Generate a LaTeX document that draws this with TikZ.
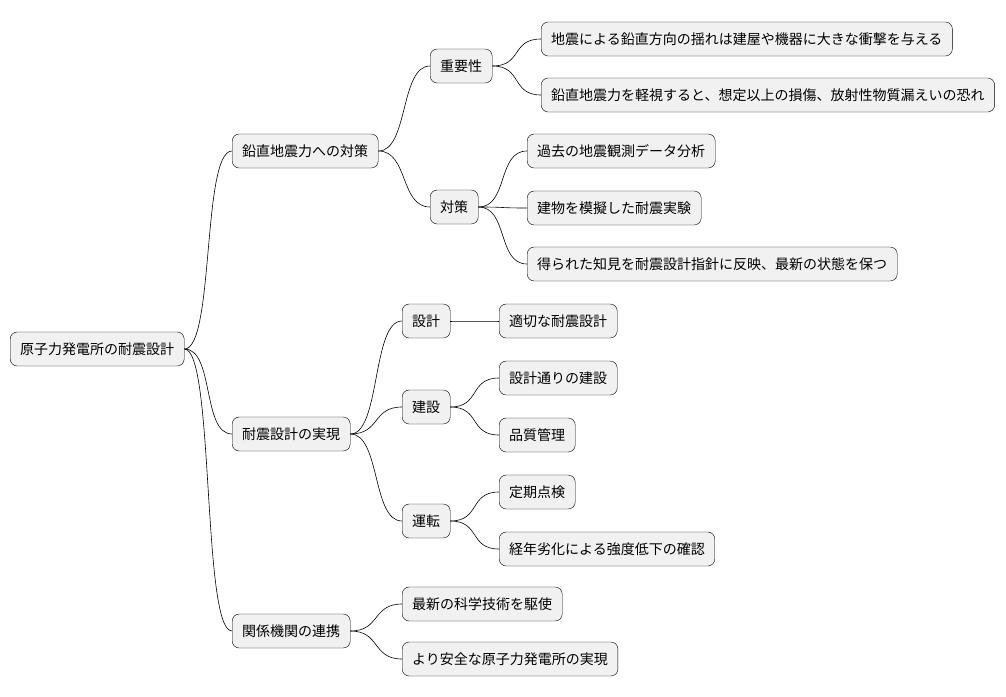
\documentclass[tikz,border=0pt]{standalone}
\usepackage{fontspec}
\setmainfont{Noto Sans CJK JP}
\usetikzlibrary{positioning}
\definecolor{boxfill}{HTML}{F1F1F1}
\begin{document}
\begin{tikzpicture}[x=1pt,y=-1pt,
    topic/.style={draw=black,fill=boxfill,rounded corners=7pt,anchor=west,
      minimum height=34pt,inner xsep=10pt,inner ysep=0pt,font=\fontsize{14pt}{16pt}\selectfont},
    link/.style={draw=black,line width=0.6pt}]
    \useasboundingbox (0,0) rectangle (1006,696);
    % root and first level
    \node[topic] (root) at (10,349) {原子力発電所の耐震設計};
    \node[topic] (vert) at (232,151) {鉛直地震力への対策};
    \node[topic] (real) at (232,434) {耐震設計の実現};
    \node[topic] (coop) at (232,631) {関係機関の連携};
    % second level
    \node[topic] (imp) at (430,66) {重要性};
    \node[topic] (meas) at (430,207) {対策};
    \node[topic] (des) at (402,321) {設計};
    \node[topic] (cons) at (402,407) {建設};
    \node[topic] (oper) at (402,521) {運転};
    \node[topic] (sci) at (402,604) {最新の科学技術を駆使};
    \node[topic] (safe) at (402,659) {より安全な原子力発電所の実現};
    % third level
    \node[topic] (imp-1) at (541,39) {地震による鉛直方向の揺れは建屋や機器に大きな衝撃を与える};
    \node[topic] (imp-2) at (541,95) {鉛直地震力を軽視すると、想定以上の損傷、放射性物質漏えいの恐れ};
    \node[topic] (meas-1) at (527,151) {過去の地震観測データ分析};
    \node[topic] (meas-2) at (527,208) {建物を模擬した耐震実験};
    \node[topic] (meas-3) at (527,264) {得られた知見を耐震設計指針に反映、最新の状態を保つ};
    \node[topic] (des-1) at (499,321) {適切な耐震設計};
    \node[topic] (cons-1) at (499,378) {設計通りの建設};
    \node[topic] (cons-2) at (499,435) {品質管理};
    \node[topic] (oper-1) at (499,492) {定期点検};
    \node[topic] (oper-2) at (499,549) {経年劣化による強度低下の確認};

    % connectors
    \foreach \src/\dst in {root/vert,root/real,root/coop,
        vert/imp,vert/meas,real/des,real/cons,real/oper,coop/sci,coop/safe,
        imp/imp-1,imp/imp-2,meas/meas-1,meas/meas-2,meas/meas-3,
        des/des-1,cons/cons-1,cons/cons-2,oper/oper-1,oper/oper-2}
        \draw[link] (\src.east) .. controls ([xshift=30pt]\src.east) and ([xshift=-30pt]\dst.west) .. (\dst.west);
\end{tikzpicture}
\end{document}
